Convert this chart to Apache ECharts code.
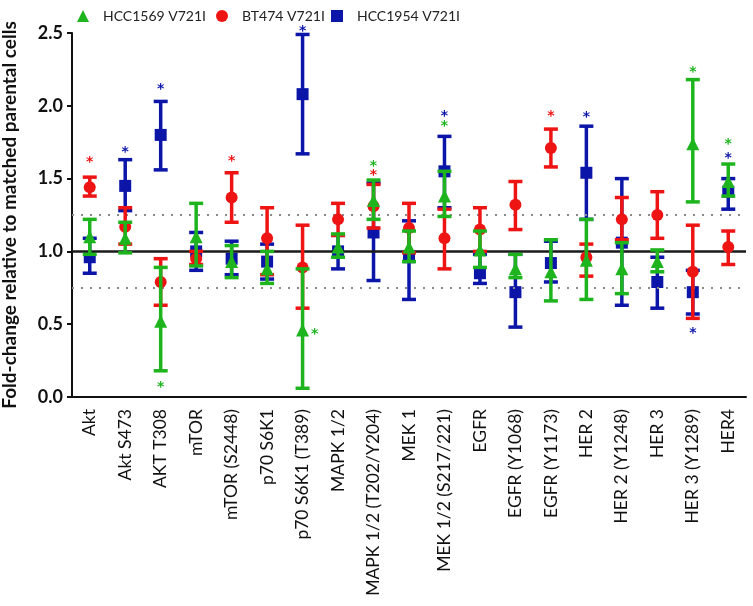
<!DOCTYPE html>
<html>
<head>
<meta charset="utf-8">
<script src="https://cdn.jsdelivr.net/npm/echarts@6/dist/echarts.min.js"></script>
<style>
html,body{margin:0;padding:0;background:#fff;}
#c{width:753px;height:606px;}
</style>
</head>
<body>
<div id="c"></div>
<script>
const categories = ['Akt','Akt S473','AKT T308','mTOR','mTOR (S2448)','p70 S6K1','p70 S6K1 (T389)','MAPK 1/2','MAPK 1/2 (T202/Y204)','MEK 1','MEK 1/2 (S217/221)','EGFR','EGFR (Y1068)','EGFR (Y1173)','HER 2','HER 2 (Y1248)','HER 3','HER 3 (Y1289)','HER4'];

const seriesNames = ['HCC1569 V721I','BT474 V721I','HCC1954 V721I'];

// mean, low, high per category
const greenMean = [1.10,1.09,0.52,1.10,0.93,0.88,0.46,1.03,1.35,1.03,1.38,1.01,0.88,0.86,0.94,0.88,0.93,1.74,1.48];
const greenLow  = [0.98,0.99,0.18,0.90,0.82,0.78,0.06,0.96,1.22,0.93,1.24,0.89,0.82,0.66,0.67,0.71,0.86,1.34,1.38];
const greenHigh = [1.22,1.20,0.89,1.33,1.04,1.00,0.88,1.12,1.49,1.14,1.55,1.14,0.98,1.08,1.22,1.06,1.01,2.18,1.60];

const redMean = [1.44,1.17,0.79,0.95,1.37,1.09,0.89,1.22,1.31,1.16,1.09,1.15,1.32,1.71,0.96,1.22,1.25,0.86,1.03];
const redLow  = [1.38,1.05,0.63,0.91,1.20,0.84,0.61,1.11,1.16,0.99,0.88,1.00,1.15,1.58,0.83,1.08,1.09,0.54,0.91];
const redHigh = [1.51,1.30,0.95,1.00,1.54,1.30,1.18,1.33,1.46,1.33,1.29,1.30,1.48,1.84,1.05,1.37,1.41,1.18,1.14];

const blueMean = [0.96,1.45,1.80,1.00,0.95,0.93,2.08,1.00,1.13,0.96,1.55,0.85,0.72,0.92,1.54,1.06,0.79,0.72,1.41];
const blueLow  = [0.85,1.28,1.56,0.87,0.84,0.81,1.67,0.88,0.80,0.67,1.30,0.78,0.48,0.79,1.22,0.63,0.61,0.57,1.29];
const blueHigh = [1.09,1.63,2.03,1.13,1.07,1.05,2.49,1.11,1.47,1.21,1.79,0.98,0.98,1.07,1.86,1.50,0.96,0.87,1.50];

// significance stars: [categoryIndex, y, placement (0 = centred, 1 = right of point)]
const greenStars = [[2,0.094,0],[6,0.46,1],[8,1.609,0],[10,1.884,0],[17,2.258,0],[18,1.76,0]];
const redStars   = [[0,1.64,0],[4,1.644,0],[8,1.547,0],[13,1.953,0]];
const blueStars  = [[1,1.71,0],[2,2.14,0],[6,2.54,0],[10,1.953,0],[14,1.948,0],[17,0.465,0],[18,1.667,0]];

const yTicks = [0.0,0.5,1.0,1.5,2.0,2.5];
const refSolid = [1.0];
const refDotted = [1.25,0.75];

const GREEN = '#1eb41e', RED = '#ee1414', BLUE = '#0b15a8';
const FONT = 'Lato, "Open Sans", sans-serif';

function errData(lo, hi){ return lo.map((v,i)=>[i, v, hi[i]]); }
function meanData(m){ return m.map((v,i)=>[i, v]); }

function errRender(color){
  return function(params, api){
    const x = api.value(0);
    const p1 = api.coord([x, api.value(1)]);
    const p2 = api.coord([x, api.value(2)]);
    const cw = 7;
    const st = {stroke: color, lineWidth: 3.5};
    return {type:'group', children:[
      {type:'line', shape:{x1:p1[0], y1:p1[1], x2:p2[0], y2:p2[1]}, style:st},
      {type:'line', shape:{x1:p1[0]-cw, y1:p1[1], x2:p1[0]+cw, y2:p1[1]}, style:st},
      {type:'line', shape:{x1:p2[0]-cw, y1:p2[1], x2:p2[0]+cw, y2:p2[1]}, style:st}
    ]};
  };
}
function starRender(color){
  return function(params, api){
    const p = api.coord([api.value(0), api.value(1)]);
    const dx = api.value(2) ? 12 : 0;
    return {type:'text', x:p[0]+dx, y:p[1]+4, style:{text:'*', fill:color, font:'bold 14px "DejaVu Sans", sans-serif', align:'center', verticalAlign:'middle'}};
  };
}

const groups = [
  {name: seriesNames[2], color: BLUE, symbol:'rect', size:12, mean: blueMean, lo: blueLow, hi: blueHigh, stars: blueStars},
  {name: seriesNames[1], color: RED, symbol:'circle', size:12, mean: redMean, lo: redLow, hi: redHigh, stars: redStars},
  {name: seriesNames[0], color: GREEN, symbol:'triangle', size:13, mean: greenMean, lo: greenLow, hi: greenHigh, stars: greenStars}
];

const series = [];
series.push({
  type:'line', data:[], silent:true,
  markLine:{
    symbol:'none', silent:true, label:{show:false},
    data: refDotted.map(v=>({yAxis:v})),
    lineStyle:{color:'#8a8a8a', width:2, type:[2,7]}
  }
});
series.push({
  type:'line', data:[], silent:true,
  markLine:{
    symbol:'none', silent:true, label:{show:false},
    data: refSolid.map(v=>({yAxis:v})),
    lineStyle:{color:'#1a1a1a', width:2.5, type:'solid'}
  }
});
groups.forEach((g,k)=>{
  series.push({type:'custom', renderItem: errRender(g.color), data: errData(g.lo, g.hi), encode:{x:0, y:[1,2]}, z: 3+2*k, silent:true});
  series.push({type:'scatter', name:g.name, data: meanData(g.mean), symbol:g.symbol, symbolSize:g.size, itemStyle:{color:g.color, opacity:1}, z: 4+2*k});
  series.push({type:'custom', renderItem: starRender(g.color), data: g.stars, encode:{x:0, y:1}, z: 20, silent:true});
});

const legendLefts = [72, 211, 326];
const legends = seriesNames.map((n,i)=>({
  data:[n], top: 4, left: legendLefts[i], itemWidth: 12, itemHeight: 12,
  textStyle:{fontSize:14, color:'#222', fontFamily: FONT, padding:[0,0,0,9]}
}));

const chart = echarts.init(document.getElementById('c'), null, {renderer:'canvas'});
chart.setOption({
  animation:false,
  backgroundColor:'#ffffff',
  textStyle:{fontFamily: FONT},
  legend: legends,
  grid:{left:72, right:7, top:33, bottom:209, containLabel:false, outerBoundsMode:'none'},
  xAxis:{
    type:'category', data: categories, boundaryGap:true,
    axisLine:{lineStyle:{color:'#111', width:2}},
    axisTick:{alignWithLabel:true, length:6, lineStyle:{color:'#111', width:2}},
    axisLabel:{rotate:90, fontSize:17.5, color:'#111', margin:12, fontFamily: FONT, interval:0},
    splitLine:{show:false}
  },
  yAxis:{
    type:'value', min:0, max:2.5, interval:0.5,
    name:'Fold-change relative to matched parental cells', nameLocation:'middle', nameGap:53,
    nameTextStyle:{fontSize:19, fontWeight:'bold', color:'#111', fontFamily: FONT},
    axisLine:{show:true, lineStyle:{color:'#111', width:2}},
    axisTick:{show:true, length:5, lineStyle:{color:'#111', width:2}},
    axisLabel:{fontSize:18, fontWeight:'bold', color:'#111', margin:9, fontFamily: FONT,
      formatter: v => yTicks.includes(v) ? v.toFixed(1) : ''},
    splitLine:{show:false}
  },
  series: series
});
</script>
</body>
</html>
